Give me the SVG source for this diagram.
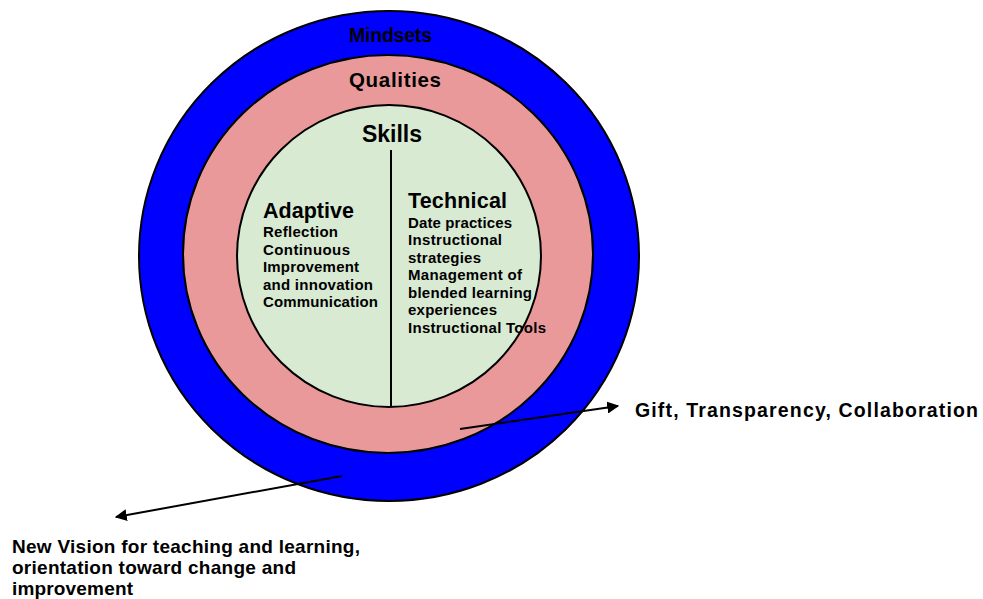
<svg xmlns="http://www.w3.org/2000/svg" width="983" height="599" viewBox="0 0 983 599">
<defs>
<style>
text{font-family:"Liberation Sans",Arial,sans-serif;font-weight:bold;fill:#000}
.ring{stroke:#000;stroke-width:2}
.item{font-size:15px}
.head{font-size:21.5px}
.conn{stroke:#000;stroke-width:2;fill:none;marker-end:url(#ah)}
</style>
<marker id="ah" viewBox="0 0 10 10" refX="9" refY="5" markerWidth="6" markerHeight="6" orient="auto" markerUnits="strokeWidth">
<path d="M0,0 L10,5 L0,10 z" fill="#000"/>
</marker>
</defs>
<rect width="983" height="599" fill="#fff"/>
<g id="mindsets">
<ellipse class="ring" cx="389" cy="256" rx="250" ry="245" fill="#0000FF"/>
<text x="349" y="42" font-size="19.5" textLength="83" lengthAdjust="spacing">Mindsets</text>
</g>
<g id="qualities">
<ellipse class="ring" cx="388" cy="254" rx="205" ry="199" fill="#E99999"/>
<text x="349" y="86.5" font-size="20.5" textLength="92" lengthAdjust="spacing">Qualities</text>
</g>
<g id="skills">
<ellipse class="ring" cx="389" cy="256" rx="152" ry="151" fill="#D9EAD3"/>
<text x="362" y="141.5" font-size="23" textLength="60" lengthAdjust="spacing">Skills</text>
<line x1="391" y1="150" x2="391" y2="407" stroke="#000" stroke-width="2"/>
</g>
<g id="adaptive">
<text x="263" y="218" class="head" textLength="91" lengthAdjust="spacing">Adaptive</text>
<text class="item" x="263" y="237" textLength="75" lengthAdjust="spacing">Reflection</text>
<text class="item" x="263" y="254.5" textLength="87" lengthAdjust="spacing">Continuous</text>
<text class="item" x="263" y="272" textLength="96" lengthAdjust="spacing">Improvement</text>
<text class="item" x="263" y="289.5" textLength="110" lengthAdjust="spacing">and innovation</text>
<text class="item" x="263" y="307" textLength="115" lengthAdjust="spacing">Communication</text>
</g>
<g id="technical">
<text x="408" y="208" class="head" textLength="99" lengthAdjust="spacing">Technical</text>
<text class="item" x="408" y="227.5" textLength="104" lengthAdjust="spacing">Date practices</text>
<text class="item" x="408" y="245" textLength="94" lengthAdjust="spacing">Instructional</text>
<text class="item" x="408" y="262.5" textLength="73" lengthAdjust="spacing">strategies</text>
<text class="item" x="408" y="280" textLength="114" lengthAdjust="spacing">Management of</text>
<text class="item" x="408" y="297.5" textLength="124" lengthAdjust="spacing">blended learning</text>
<text class="item" x="408" y="315" textLength="89" lengthAdjust="spacing">experiences</text>
<text class="item" x="408" y="332.5" textLength="138" lengthAdjust="spacing">Instructional Tools</text>
</g>
<g id="connectors">
<line class="conn" x1="460" y1="429" x2="618" y2="406"/>
<line class="conn" x1="342" y1="476" x2="116" y2="517"/>
</g>
<g id="gift-label">
<text x="635" y="417" font-size="19.5" textLength="343" lengthAdjust="spacing">Gift, Transparency, Collaboration</text>
</g>
<g id="vision-label">
<text x="12" y="553" font-size="19" textLength="348" lengthAdjust="spacing">New Vision for teaching and learning,</text>
<text x="12" y="574" font-size="19" textLength="284" lengthAdjust="spacing">orientation toward change and</text>
<text x="12" y="595" font-size="19" textLength="121" lengthAdjust="spacing">improvement</text>
</g>
</svg>
